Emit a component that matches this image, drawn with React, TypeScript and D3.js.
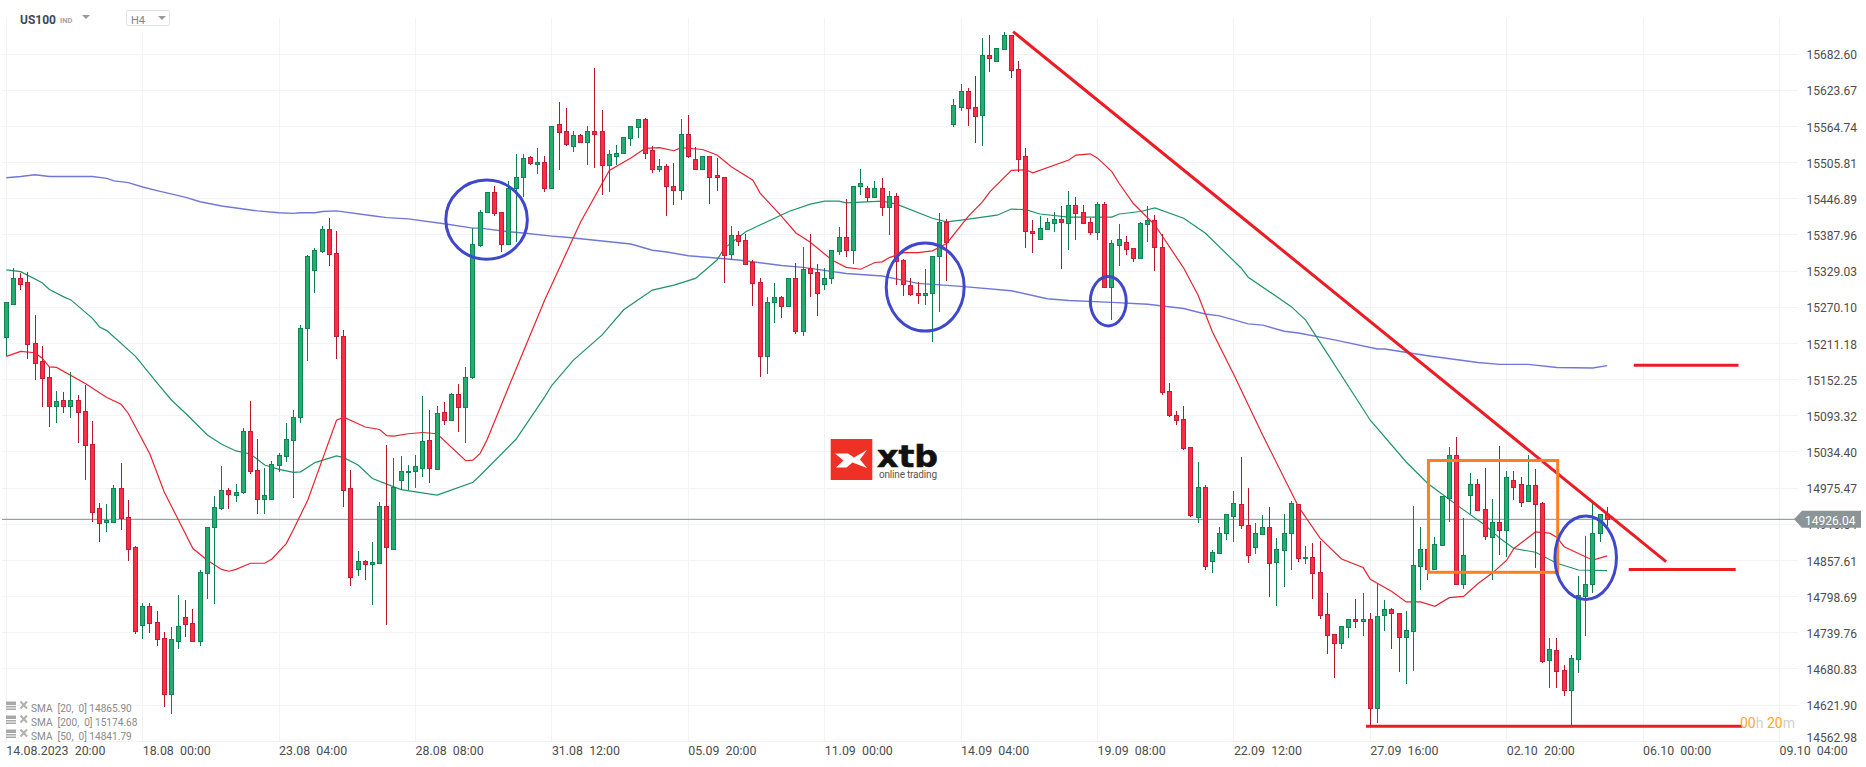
import React, { useEffect, useRef } from 'react';
import * as d3 from 'd3';

const opens = [
	15222, 15275, 15317, 15311, 15212, 15182, 15156, 15109, 15119, 15109,
	15119, 15101, 15047, 14943, 14920, 14921, 14975, 14928, 14879, 14752,
	14783, 14757, 14731, 14640, 14727, 14765, 14755, 14727, 14837, 14912,
	14943, 14972, 14964, 14969, 15068, 15005, 14957, 14957, 15013, 15028,
	15053, 15092, 15236, 15330, 15361, 15397, 15358, 15224, 14975, 14843,
	14856, 14851, 14853, 14946, 14877, 14988, 15001, 15003, 15009, 15053,
	15006, 15099, 15086, 15129, 15107, 15157, 15371, 15426, 15457, 15425,
	15373, 15464, 15482, 15514, 15503, 15506, 15465, 15568, 15557, 15532,
	15550, 15539, 15557, 15557, 15501, 15516, 15521, 15545, 15564, 15576,
	15527, 15496, 15500, 15467, 15461, 15552, 15511, 15495, 15516, 15485,
	15483, 15356, 15387, 15379, 15343, 15311, 15190, 15278, 15286, 15272,
	15317, 15232, 15334, 15327, 15308, 15317, 15361, 15384, 15363, 15467,
	15464, 15450, 15465, 15434, 15452, 15347, 15306, 15293, 15290, 15293,
	15353, 15409, 15568, 15597, 15622, 15596, 15583, 15681, 15672, 15690,
	15713, 15658, 15516, 15395, 15381, 15397, 15407, 15413, 15407, 15436,
	15425, 15409, 15392, 15438, 15303, 15371, 15376, 15366, 15350, 15405,
	15412, 15368, 15133, 15094, 15088, 15042, 14929, 14978, 14856, 14869,
	14902, 14930, 14949, 14916, 14879, 14900, 14912, 14855, 14874, 14902,
	14949, 14861, 14864, 14838, 14770, 14737, 14723, 14749, 14762, 14759,
	14763, 14617, 14768, 14778, 14772, 14733, 14742, 14848, 14876, 14843,
	14882, 14960, 15030, 14819, 14964, 14982, 14941, 14895, 14920, 14907,
	14988, 14982, 14954, 14980, 14951, 14695, 14711, 14679, 14646, 14697,
	14799, 14819, 14902, 14934,
];
const highs = [
	15279, 15334, 15326, 15328, 15257, 15207, 15173, 15134, 15132, 15164,
	15127, 15143, 15085, 14951, 14950, 14980, 15016, 14956, 14881, 14788,
	14788, 14775, 14741, 14749, 14801, 14793, 14778, 14842, 14912, 14962,
	15011, 14975, 14982, 15073, 15117, 15055, 15009, 15019, 15032, 15082,
	15102, 15241, 15355, 15366, 15402, 15415, 15394, 15233, 15005, 14873,
	14859, 14887, 14952, 15045, 15024, 15027, 15013, 15029, 15125, 15102,
	15109, 15116, 15131, 15145, 15172, 15399, 15428, 15457, 15468, 15426,
	15475, 15520, 15519, 15516, 15529, 15516, 15566, 15605, 15594, 15557,
	15553, 15566, 15659, 15591, 15526, 15535, 15547, 15566, 15576, 15578,
	15532, 15511, 15503, 15505, 15576, 15584, 15531, 15516, 15516, 15513,
	15483, 15402, 15394, 15389, 15347, 15317, 15286, 15309, 15288, 15317,
	15342, 15369, 15389, 15340, 15334, 15363, 15400, 15446, 15467, 15496,
	15467, 15475, 15480, 15459, 15456, 15348, 15317, 15311, 15333, 15353,
	15423, 15413, 15610, 15633, 15627, 15646, 15708, 15713, 15693, 15718,
	15713, 15671, 15529, 15412, 15418, 15415, 15426, 15435, 15459, 15449,
	15436, 15415, 15441, 15441, 15379, 15405, 15386, 15366, 15409, 15435,
	15420, 15389, 15146, 15101, 15110, 15042, 15018, 14980, 14874, 14912,
	14934, 14970, 15026, 14975, 14918, 14931, 14944, 14894, 14933, 14954,
	14949, 14881, 14886, 14890, 14804, 14737, 14750, 14762, 14794, 14804,
	14772, 14819, 14793, 14780, 14772, 14775, 14946, 14912, 14876, 14895,
	14962, 15042, 15058, 14926, 15000, 14991, 15009, 14957, 15044, 15003,
	15003, 14993, 15029, 15006, 14952, 14731, 14731, 14688, 14703, 14832,
	14897, 14951, 14934, 14944,
];
const lows = [
	15190, 15274, 15298, 15186, 15152, 15108, 15075, 15082, 15098, 15090,
	15049, 14988, 14920, 14887, 14904, 14921, 14908, 14856, 14738, 14730,
	14740, 14718, 14619, 14608, 14714, 14733, 14727, 14719, 14794, 14787,
	14939, 14942, 14952, 14966, 14998, 14933, 14933, 14957, 15001, 15018,
	14959, 15082, 15183, 15294, 15359, 15338, 15185, 14944, 14816, 14832,
	14826, 14785, 14853, 14753, 14876, 14973, 14973, 14976, 14994, 14983,
	15005, 15079, 15086, 15067, 15049, 15153, 15368, 15423, 15418, 15360,
	15373, 15376, 15450, 15501, 15487, 15458, 15465, 15494, 15532, 15523,
	15537, 15501, 15497, 15453, 15458, 15501, 15521, 15533, 15545, 15512,
	15488, 15491, 15418, 15437, 15444, 15513, 15495, 15495, 15439, 15460,
	15310, 15347, 15370, 15340, 15272, 15157, 15162, 15245, 15253, 15270,
	15227, 15223, 15287, 15255, 15298, 15308, 15355, 15352, 15340, 15453,
	15442, 15449, 15419, 15388, 15306, 15289, 15288, 15276, 15273, 15213,
	15262, 15313, 15563, 15589, 15566, 15537, 15532, 15654, 15672, 15690,
	15643, 15490, 15366, 15358, 15379, 15397, 15392, 15332, 15364, 15379,
	15407, 15387, 15379, 15303, 15249, 15338, 15355, 15343, 15350, 15376,
	15329, 15127, 15091, 15079, 15037, 14929, 14919, 14842, 14837, 14869,
	14891, 14887, 14909, 14853, 14868, 14900, 14798, 14783, 14815, 14842,
	14855, 14851, 14794, 14763, 14705, 14666, 14713, 14731, 14747, 14734,
	14587, 14593, 14742, 14713, 14676, 14657, 14678, 14809, 14825, 14843,
	14881, 14920, 14819, 14811, 14933, 14938, 14891, 14825, 14866, 14863,
	14956, 14944, 14954, 14846, 14690, 14650, 14650, 14636, 14587, 14675,
	14734, 14804, 14888, 14913,
];
const closes = [
	15279, 15317, 15308, 15211, 15180, 15154, 15109, 15117, 15109, 15119,
	15099, 15045, 14936, 14918, 14924, 14975, 14926, 14877, 14742, 14783,
	14755, 14729, 14640, 14729, 14750, 14754, 14727, 14838, 14912, 14944,
	14972, 14966, 14969, 15068, 15003, 14957, 14964, 15014, 15029, 15055,
	15092, 15237, 15353, 15363, 15397, 15356, 15223, 14973, 14830, 14856,
	14851, 14855, 14946, 14879, 14978, 15004, 15004, 15011, 15052, 15008,
	15097, 15086, 15129, 15107, 15156, 15373, 15426, 15457, 15423, 15373,
	15464, 15483, 15513, 15505, 15506, 15465, 15566, 15555, 15536, 15550,
	15539, 15557, 15553, 15501, 15519, 15522, 15547, 15566, 15576, 15522,
	15496, 15500, 15467, 15461, 15552, 15516, 15495, 15516, 15483, 15482,
	15355, 15387, 15378, 15340, 15309, 15190, 15279, 15286, 15272, 15317,
	15232, 15332, 15326, 15293, 15317, 15363, 15384, 15363, 15467, 15472,
	15450, 15465, 15434, 15452, 15345, 15308, 15291, 15290, 15294, 15353,
	15409, 15376, 15599, 15623, 15594, 15581, 15681, 15676, 15692, 15713,
	15656, 15511, 15394, 15391, 15399, 15409, 15413, 15409, 15436, 15423,
	15407, 15392, 15438, 15303, 15374, 15382, 15365, 15350, 15407, 15412,
	15368, 15132, 15094, 15086, 15040, 14931, 14978, 14848, 14871, 14903,
	14933, 14951, 14915, 14866, 14903, 14912, 14853, 14876, 14903, 14951,
	14861, 14864, 14837, 14768, 14736, 14723, 14750, 14762, 14759, 14763,
	14617, 14767, 14778, 14772, 14733, 14744, 14850, 14876, 14843, 14884,
	14962, 15030, 14819, 14866, 14982, 14939, 14897, 14920, 14907, 14993,
	14978, 14952, 14980, 14949, 14693, 14713, 14677, 14646, 14698, 14801,
	14820, 14902, 14934, 14925,
];

// moving averages at the bars where they bend
const sma20Bars = [0, 2, 4, 5, 6, 7, 11, 14, 16, 17, 20, 22, 24, 26, 28, 30, 31, 32, 34, 36, 37, 39, 40, 42, 44, 46, 47, 50, 52, 53, 54, 56, 58, 60, 64, 65, 66, 67, 70, 75, 80, 84, 87, 89, 91, 93, 94, 97, 99, 101, 104, 105, 108, 110, 112, 115, 117, 119, 121, 122, 123, 125, 127, 129, 131, 134, 136, 137, 140, 142, 143, 148, 149, 151, 152, 154, 155, 157, 160, 164, 166, 168, 171, 175, 180, 183, 186, 189, 190, 193, 195, 197, 199, 201, 203, 205, 207, 209, 210, 213, 215, 216, 217, 219, 221, 223];
const sma20Values = [15190, 15198, 15196, 15187, 15173, 15172, 15146, 15123, 15112, 15097, 15031, 14969, 14923, 14877, 14858, 14843, 14840, 14843, 14853, 14853, 14860, 14885, 14908, 14956, 15021, 15086, 15091, 15075, 15071, 15061, 15060, 15064, 15066, 15064, 15020, 15021, 15032, 15055, 15141, 15282, 15409, 15493, 15513, 15529, 15530, 15525, 15530, 15527, 15518, 15499, 15477, 15456, 15418, 15391, 15376, 15347, 15335, 15332, 15343, 15344, 15351, 15359, 15359, 15362, 15374, 15418, 15442, 15458, 15493, 15494, 15489, 15510, 15518, 15520, 15513, 15491, 15472, 15439, 15404, 15334, 15290, 15230, 15160, 15062, 14945, 14894, 14860, 14846, 14827, 14807, 14790, 14790, 14783, 14797, 14799, 14820, 14837, 14858, 14877, 14904, 14902, 14895, 14880, 14869, 14858, 14865];
const sma50Bars = [0, 2, 5, 6, 8, 9, 12, 13, 14, 18, 21, 23, 25, 28, 30, 32, 34, 36, 38, 40, 41, 43, 46, 47, 49, 51, 53, 55, 60, 61, 65, 66, 71, 75, 76, 79, 83, 86, 90, 93, 96, 99, 100, 103, 109, 112, 114, 116, 117, 122, 124, 129, 131, 133, 138, 140, 142, 144, 148, 152, 154, 155, 158, 160, 164, 167, 172, 173, 179, 181, 184, 190, 195, 198, 203, 206, 208, 210, 213, 216, 219, 223];
const sma50Values = [15331, 15328, 15310, 15299, 15287, 15282, 15252, 15238, 15232, 15190, 15147, 15119, 15097, 15062, 15047, 15036, 15031, 15013, 15006, 15001, 15002, 15017, 15028, 15025, 15013, 14991, 14982, 14973, 14964, 14968, 14985, 14996, 15055, 15124, 15143, 15184, 15225, 15266, 15298, 15306, 15317, 15347, 15366, 15393, 15426, 15438, 15443, 15443, 15440, 15443, 15438, 15415, 15409, 15412, 15420, 15430, 15429, 15422, 15417, 15417, 15417, 15422, 15426, 15432, 15415, 15391, 15334, 15319, 15271, 15249, 15195, 15086, 15018, 14983, 14940, 14915, 14894, 14877, 14871, 14853, 14842, 14841];
const sma200Bars = [0, 2, 4, 6, 12, 14, 15, 17, 19, 21, 25, 27, 30, 35, 38, 40, 41, 43, 44, 46, 51, 53, 56, 61, 65, 66, 70, 72, 76, 78, 87, 90, 92, 95, 98, 102, 108, 111, 117, 122, 127, 133, 140, 145, 148, 154, 159, 164, 167, 169, 173, 175, 178, 180, 185, 191, 192, 198, 205, 208, 210, 212, 216, 221, 223];
const sma200Values = [15481, 15483, 15486, 15483, 15483, 15480, 15476, 15473, 15466, 15460, 15449, 15442, 15435, 15427, 15424, 15423, 15424, 15424, 15426, 15427, 15419, 15416, 15414, 15406, 15399, 15399, 15393, 15391, 15386, 15384, 15373, 15363, 15360, 15354, 15351, 15347, 15338, 15335, 15325, 15321, 15309, 15304, 15297, 15284, 15281, 15278, 15275, 15268, 15259, 15256, 15243, 15241, 15231, 15228, 15217, 15202, 15202, 15191, 15180, 15177, 15177, 15177, 15172, 15171, 15175];

const priceTicks = [15682.6, 15623.67, 15564.74, 15505.81, 15446.89, 15387.96, 15329.03, 15270.1, 15211.18, 15152.25, 15093.32, 15034.4, 14975.47, 14916.54, 14857.61, 14798.69, 14739.76, 14680.83, 14621.9, 14562.98];
const timeTicks = ['14.08.2023  20:00', '18.08  00:00', '23.08  04:00', '28.08  08:00', '31.08  12:00', '05.09  20:00', '11.09  00:00', '14.09  04:00', '19.09  08:00', '22.09  12:00', '27.09  16:00', '02.10  20:00', '06.10  00:00', '09.10  04:00'];
const barsPerTick = 19;
const legendRows = ['SMA  [20,  0] 14865.90', 'SMA  [200,  0] 15174.68', 'SMA  [50,  0] 14841.79'];

// price line sits where the feed drew it, the tag text is the quoted value
const lastLinePrice = 14924.6;
const lastLabel = '14926.04';

// hand drawn marks on the chart, in bars and price
const trendBars = [140.25, 231.2];
const trendPrices = [15719, 14855.6];
const levelBarsFrom = [226.7, 226, 189.4];
const levelBarsTo = [241.3, 240.9, 241.8];
const levelPrices = [15175.5, 14843, 14587.5];
const boxBars = [198.1, 216.1];
const boxPrices = [15020.4, 14838.3];
const circleBars = [66.9, 128, 153.5, 220];
const circlePrices = [15412.7, 15303, 15279.8, 14862];
const circleBarRadius = [5.68, 5.43, 2.5, 4.29];
const circlePriceRadius = [64.5, 71.7, 40.2, 67.9];

const App: React.FC = () => {
	const svgRef = useRef<SVGSVGElement>(null);

	useEffect(() => {
		if (!svgRef.current) return;

		const width = 1866;
		const height = 767;
		const font = 'Roboto, sans-serif';

		const x = d3.scaleLinear().domain([0, 13 * barsPerTick]).range([6.3, 1779.5]);
		const y = d3.scaleLinear().domain([14562.98, 15682.6]).range([741.3, 54]);
		const px = (bar: number) => Math.floor(x(bar)) + 0.5;

		const svg = d3.select(svgRef.current);
		svg.selectAll('*').remove(); // Clear previous content

		svg.append('rect').attr('width', width).attr('height', height).attr('fill', '#fff');

		// grid
		const grid = svg.append('g').attr('stroke', '#f3f3f4').attr('stroke-width', 1).attr('shape-rendering', 'crispEdges');
		priceTicks.forEach((tick) => {
			grid.append('line')
				.attr('x1', 2)
				.attr('x2', 1798)
				.attr('y1', Math.floor(y(tick)) + 0.5)
				.attr('y2', Math.floor(y(tick)) + 0.5);
		});
		timeTicks.forEach((_, i) => {
			grid.append('line')
				.attr('x1', px(i * barsPerTick))
				.attr('x2', px(i * barsPerTick))
				.attr('y1', i === 1 ? 32 : 18)
				.attr('y2', 741);
		});

		// logo
		const logo = svg.append('g');
		logo.append('rect').attr('x', 830.7).attr('y', 439).attr('width', 41.6).attr('height', 41).attr('fill', '#ee3124');
		logo.append('path')
			.attr('d', 'M835 453.5 L848 453.5 L854 457.5 L867 450 L860 459.5 L867 468 L852.5 462.5 L846.5 467.5 L836 467.5 L843.5 460.5 Z')
			.attr('fill', '#fff');
		logo.append('text')
			.attr('x', 877)
			.attr('y', 467)
			.attr('font-family', '"DejaVu Sans", sans-serif')
			.attr('font-weight', 700)
			.attr('font-size', 30)
			.attr('textLength', 61)
			.attr('lengthAdjust', 'spacingAndGlyphs')
			.attr('stroke', '#111')
			.attr('stroke-width', 0.6)
			.attr('fill', '#111')
			.text('xtb');
		logo.append('text')
			.attr('x', 879)
			.attr('y', 477.5)
			.attr('font-family', font)
			.attr('font-size', 10)
			.attr('textLength', 58)
			.attr('fill', '#555')
			.text('online trading');

		// last price line
		svg.append('line')
			.attr('x1', 2)
			.attr('x2', 1796)
			.attr('y1', y(lastLinePrice))
			.attr('y2', y(lastLinePrice))
			.attr('stroke', '#7f8c8d')
			.attr('stroke-width', 1);

		// moving averages
		const drawSma = (bars: number[], values: number[], color: string, lineWidth: number) => {
			const line = d3.line<number>()
				.x((bar) => x(bar))
				.y((_, i) => y(values[i]));
			svg.append('path')
				.attr('d', line(bars))
				.attr('fill', 'none')
				.attr('stroke', color)
				.attr('stroke-width', lineWidth);
		};
		drawSma(sma200Bars, sma200Values, '#6f78d8', 1.4);
		drawSma(sma50Bars, sma50Values, '#1f9468', 1.2);
		drawSma(sma20Bars, sma20Values, '#e8232f', 1.2);

		// candles
		const candles = svg.append('g').attr('shape-rendering', 'crispEdges');
		opens.forEach((open, i) => {
			const close = closes[i];
			const up = close >= open;
			candles.append('line')
				.attr('x1', px(i))
				.attr('x2', px(i))
				.attr('y1', y(highs[i]))
				.attr('y2', y(lows[i]))
				.attr('stroke', up ? '#0e7d50' : '#b5162b');
			const top = Math.round(y(Math.max(open, close)));
			const bottom = Math.round(y(Math.min(open, close)));
			candles.append('rect')
				.attr('x', px(i) - 2)
				.attr('y', top + 0.5)
				.attr('width', 4)
				.attr('height', Math.max(bottom - top, 1))
				.attr('fill', up ? '#25ad70' : '#fe2c44')
				.attr('stroke', up ? '#0f8456' : '#c01f36')
				.attr('stroke-width', 1);
		});

		// hand drawn lines, box and circles
		svg.append('line')
			.attr('x1', x(trendBars[0]))
			.attr('y1', y(trendPrices[0]))
			.attr('x2', x(trendBars[1]))
			.attr('y2', y(trendPrices[1]))
			.attr('stroke', '#ed1c24')
			.attr('stroke-width', 3);

		levelPrices.forEach((price, i) => {
			svg.append('line')
				.attr('x1', x(levelBarsFrom[i]))
				.attr('x2', x(levelBarsTo[i]))
				.attr('y1', y(price))
				.attr('y2', y(price))
				.attr('stroke', '#ed1c24')
				.attr('stroke-width', 3);
		});

		svg.append('rect')
			.attr('x', x(boxBars[0]))
			.attr('y', y(boxPrices[0]))
			.attr('width', x(boxBars[1]) - x(boxBars[0]))
			.attr('height', y(boxPrices[1]) - y(boxPrices[0]))
			.attr('fill', 'none')
			.attr('stroke', '#ff7f27')
			.attr('stroke-width', 3);

		circleBars.forEach((bar, i) => {
			svg.append('ellipse')
				.attr('cx', x(bar))
				.attr('cy', y(circlePrices[i]))
				.attr('rx', x(bar + circleBarRadius[i]) - x(bar))
				.attr('ry', y(circlePrices[i] - circlePriceRadius[i]) - y(circlePrices[i]))
				.attr('fill', 'none')
				.attr('stroke', '#3f48cc')
				.attr('stroke-width', 3);
		});

		// price axis
		const priceAxis = svg.append('g').attr('font-family', font).attr('font-size', 12).attr('fill', '#4d4d4d');
		priceTicks.forEach((tick, i) => {
			priceAxis.append('text')
				.attr('x', 1806.5)
				.attr('y', y(tick) + (i === priceTicks.length - 1 ? -4 : 1))
				.attr('dy', '0.35em')
				.text(tick.toFixed(2));
		});

		// last price tag
		const tagY = y(lastLinePrice);
		svg.append('path')
			.attr('d', `M1794 ${tagY} L1802 ${tagY - 8.5} L1861 ${tagY - 8.5} L1861 ${tagY + 8.5} L1802 ${tagY + 8.5} Z`)
			.attr('fill', '#8b9597');
		svg.append('text')
			.attr('x', 1805)
			.attr('y', tagY + 1)
			.attr('dy', '0.35em')
			.attr('font-family', font)
			.attr('font-size', 12)
			.attr('fill', '#fff')
			.text(lastLabel);

		// time axis
		const timeAxis = svg.append('g').attr('font-family', font).attr('font-size', 12.4).attr('fill', '#4d4d4d');
		timeTicks.forEach((label, i) => {
			timeAxis.append('text')
				.attr('x', x(i * barsPerTick))
				.attr('y', 754.5)
				.style('white-space', 'pre')
				.text(label);
		});

		// candle countdown
		const countdown = svg.append('text').attr('x', 1740).attr('y', 727.5).attr('font-family', font).attr('font-size', 14);
		[['00', '#ffa726'], ['h ', '#cfcfcf'], ['20', '#ffa726'], ['m', '#cfcfcf']].forEach(([part, color]) => {
			countdown.append('tspan').attr('fill', color).style('white-space', 'pre').text(part);
		});

		// legend
		legendRows.forEach((row, i) => {
			const rowY = 707.5 + i * 14;
			const g = svg.append('g').attr('fill', '#a8a8a8');
			g.append('rect').attr('x', 6).attr('y', rowY - 6).attr('width', 10).attr('height', 3.5);
			g.append('rect').attr('x', 6).attr('y', rowY - 1.5).attr('width', 10).attr('height', 1.5);
			g.append('rect').attr('x', 6).attr('y', rowY + 1).attr('width', 10).attr('height', 1.5);
			g.append('path')
				.attr('d', `M20.5 ${rowY - 6} L27 ${rowY + 1} M27 ${rowY - 6} L20.5 ${rowY + 1}`)
				.attr('stroke', '#b0b0b0')
				.attr('stroke-width', 2);
			svg.append('text')
				.attr('x', 31)
				.attr('y', rowY + 4)
				.attr('font-family', font)
				.attr('font-size', 10.1)
				.attr('fill', '#8a8a8a')
				.style('white-space', 'pre')
				.text(row);
		});

		// header
		const triangle = (left: number, top: number) =>
			`M${left} ${top} L${left + 8} ${top} L${left + 4} ${top + 4} Z`;
		svg.append('text')
			.attr('x', 20)
			.attr('y', 23.5)
			.attr('font-family', font)
			.attr('font-weight', 700)
			.attr('font-size', 12)
			.attr('fill', '#3c4a54')
			.text('US100');
		svg.append('text')
			.attr('x', 60)
			.attr('y', 22.5)
			.attr('font-family', font)
			.attr('font-weight', 700)
			.attr('font-size', 7.5)
			.attr('fill', '#a5a5a5')
			.text('IND');
		svg.append('path').attr('d', triangle(82, 15)).attr('fill', '#9a9a9a');
		svg.append('rect')
			.attr('x', 126.5)
			.attr('y', 10.5)
			.attr('width', 43)
			.attr('height', 15)
			.attr('rx', 1.5)
			.attr('fill', '#fff')
			.attr('stroke', '#e2e2e2');
		svg.append('text')
			.attr('x', 131)
			.attr('y', 24)
			.attr('font-family', font)
			.attr('font-size', 11)
			.attr('fill', '#7c868c')
			.text('H4');
		svg.append('path').attr('d', triangle(158, 16)).attr('fill', '#9a9a9a');
	}, []);

	return <svg ref={svgRef} width={1866} height={767} style={{ position: 'absolute', left: 0, top: 0, display: 'block' }}></svg>;
};

export default App;
